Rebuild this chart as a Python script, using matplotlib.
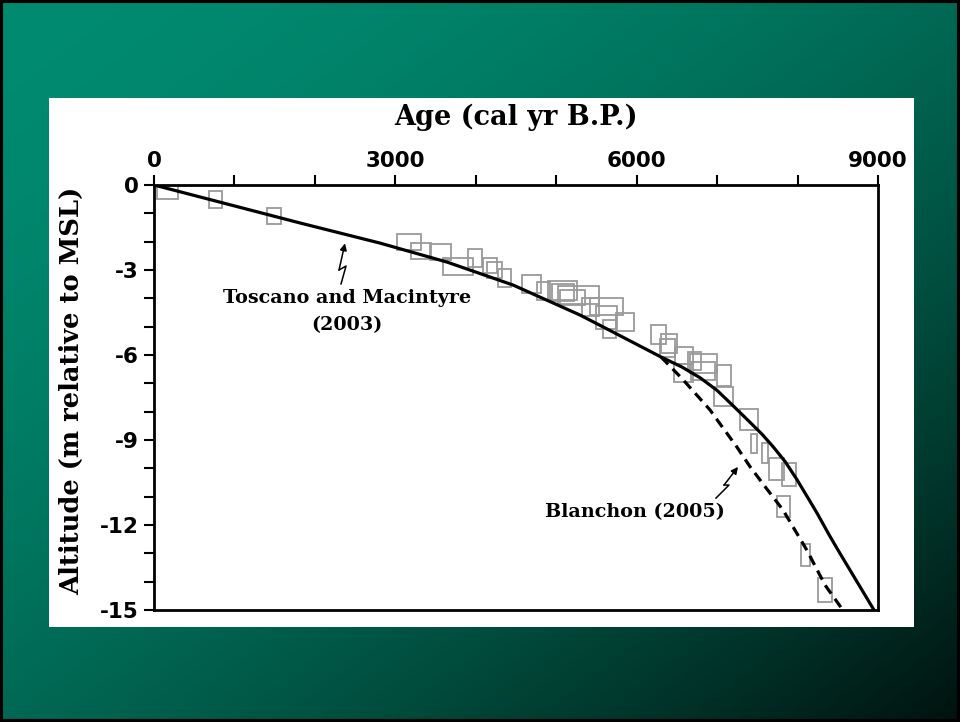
import numpy as np
import matplotlib
matplotlib.use('Agg')
import matplotlib.pyplot as plt
from matplotlib.patches import Rectangle
from matplotlib.font_manager import FontProperties

# Sea-level index points: age (cal yr B.P.) and altitude (m relative to MSL),
# each with its half-width / half-height uncertainty box
age_mid = [170, 765, 1490, 3170, 3315, 3565, 3783, 3995, 4175, 4229, 4357,
           4688, 4840, 5082, 5082, 5200, 5281, 5426, 5623, 5623, 5857, 5664,
           6270, 6402, 6383, 6590, 6586, 6721, 6829, 6823, 7082, 7078, 7398,
           7455, 7595, 7740, 7892, 7824, 8097, 8341]
age_err = [130, 77, 90, 155, 125, 128, 187, 88, 85, 93, 77,
           118, 83, 180, 139, 155, 255, 110, 203, 128, 110, 79,
           95, 103, 93, 113, 118, 79, 166, 151, 87, 116, 114,
           37, 41, 92, 89, 83, 58, 83]
alt_mid = [-0.25, -0.52, -1.10, -2.02, -2.33, -2.37, -2.88, -2.57, -2.83, -3.00, -3.28,
           -3.49, -3.74, -3.72, -3.79, -3.97, -3.88, -4.32, -4.30, -4.68, -4.84, -5.09,
           -5.28, -5.60, -5.74, -6.02, -6.63, -6.21, -6.31, -6.56, -6.72, -7.46, -8.28,
           -9.13, -9.47, -10.02, -10.22, -11.34, -13.06, -14.29]
alt_err = [0.25, 0.30, 0.28, 0.28, 0.28, 0.28, 0.31, 0.31, 0.26, 0.28, 0.31,
           0.31, 0.32, 0.34, 0.30, 0.27, 0.33, 0.32, 0.30, 0.41, 0.31, 0.32,
           0.34, 0.34, 0.32, 0.31, 0.31, 0.32, 0.34, 0.32, 0.37, 0.34, 0.37,
           0.34, 0.35, 0.40, 0.40, 0.37, 0.38, 0.41]

# Toscano and Macintyre (2003) sea-level curve
tm_age = [0, 1815, 2809, 3642, 4463, 5296, 5706, 6303, 6560, 6787, 7000, 7202,
          7400, 7560, 7700, 7850, 7993, 8120, 8242, 8403, 8527, 8950]
tm_alt = [0.0, -1.34, -2.05, -2.72, -3.53, -4.59, -5.19, -6.07, -6.42, -6.80, -7.25,
          -7.80, -8.35, -8.80, -9.25, -9.78, -10.40, -11.00, -11.58, -12.40, -13.00,
          -15.0]

# Blanchon (2005) curve, branching off near 6300 yr B.P.
bl_age = [6303, 6560, 6746, 6912, 7077, 7244, 7409, 7608, 7819, 8114, 8342, 8553]
bl_alt = [-6.07, -6.82, -7.41, -7.94, -8.59, -9.24, -9.94, -10.69, -11.47, -12.88,
          -14.12, -14.96]

x_ticks = [0, 3000, 6000, 9000]
y_ticks = [0, -3, -6, -9, -12, -15]

W, H = 960, 722
fig = plt.figure(figsize=(W / 100, H / 100), dpi=100)

# slide background: diagonal green gradient
bg = fig.add_axes([0, 0, 1, 1], zorder=0)
xx, yy = np.meshgrid(np.linspace(0, 1, W), np.linspace(0, 1, H))
t = np.clip(0.5 * xx + 0.5 * yy, 0, 1) ** 1.8
c0 = np.array([0.0, 0.545, 0.44])
c1 = np.array([0.0, 0.07, 0.055])
img = c0[None, None, :] * (1 - t[..., None]) + c1[None, None, :] * t[..., None]
bg.imshow(img, aspect='auto', extent=[0, 1, 0, 1], origin='upper')
bg.add_patch(Rectangle((49 / W, 1 - 627 / H), 865 / W, 529 / H,
                       facecolor='white', edgecolor='none'))
bg.add_patch(Rectangle((0.0015, 0.002), 0.997, 0.996, fill=False,
                       edgecolor='black', linewidth=3))
bg.set_xlim(0, 1)
bg.set_ylim(0, 1)
bg.axis('off')

ax = fig.add_axes([154 / W, 1 - 610 / H, 724 / W, 425 / H], zorder=1)
ax.set_facecolor('white')

for a, ae, h, he in zip(age_mid, age_err, alt_mid, alt_err):
    ax.add_patch(Rectangle((a - ae, h - he), 2 * ae, 2 * he, fill=False,
                           edgecolor='#9a9a9a', linewidth=1.3, zorder=2))

ax.plot(tm_age, tm_alt, color='black', linewidth=2.3, zorder=3,
        solid_joinstyle='round')
ax.plot(bl_age, bl_alt, color='black', linewidth=2.3, zorder=3,
        linestyle=(0, (3.2, 2.0)))

ax.set_xlim(0, 9000)
ax.set_ylim(-15, 0)

ax.xaxis.tick_top()
ax.xaxis.set_label_position('top')
ax.set_xticks(np.arange(0, 9001, 1000))
ax.set_xticklabels([str(v) if v in x_ticks else '' for v in range(0, 9001, 1000)])
ax.set_yticks(np.arange(0, -16, -1))
ax.set_yticklabels([str(v) if v in y_ticks else '' for v in range(0, -16, -1)])

tick_font = FontProperties(family='DejaVu Sans', weight='bold', size=15.5)
for lab in ax.get_xticklabels() + ax.get_yticklabels():
    lab.set_fontproperties(tick_font)
ax.tick_params(axis='both', direction='out', length=7, width=1.5, colors='black',
               pad=4)
ax.tick_params(axis='x', pad=3)

for side in ['top', 'left', 'right', 'bottom']:
    ax.spines[side].set_linewidth(2)
    ax.spines[side].set_color('black')

ax.set_xlabel('Age (cal yr B.P.)', family='DejaVu Serif', weight='bold',
              fontsize=19.5, labelpad=19)
ax.set_ylabel('Altitude (m relative to MSL)', family='DejaVu Serif', weight='bold',
              fontsize=18.5)
ax.yaxis.set_label_coords(-0.097, 0.515)

# curve labels with lightning-style pointers
ann_font = dict(family='DejaVu Serif', weight='bold', fontsize=13.8,
                ha='center', va='center', color='black')
ax.text(2399, -3.99, 'Toscano and Macintyre', **ann_font)
ax.text(2399, -4.94, '(2003)', **ann_font)
ax.plot([2325, 2387, 2300], [-3.49, -2.86, -3.0], color='black', linewidth=1.1)
ax.annotate('', xy=(2374, -2.06), xytext=(2300, -3.0),
            arrowprops=dict(arrowstyle='-|>', color='black', lw=1.1,
                            mutation_scale=10, shrinkA=0, shrinkB=0))

ax.text(5980, -11.54, 'Blanchon (2005)', **ann_font)
ax.plot([6986, 7148, 7086], [-11.05, -10.59, -10.59], color='black', linewidth=1.1)
ax.annotate('', xy=(7260, -9.95), xytext=(7086, -10.59),
            arrowprops=dict(arrowstyle='-|>', color='black', lw=1.1,
                            mutation_scale=10, shrinkA=0, shrinkB=0))

fig.savefig('out.png', dpi=100)
